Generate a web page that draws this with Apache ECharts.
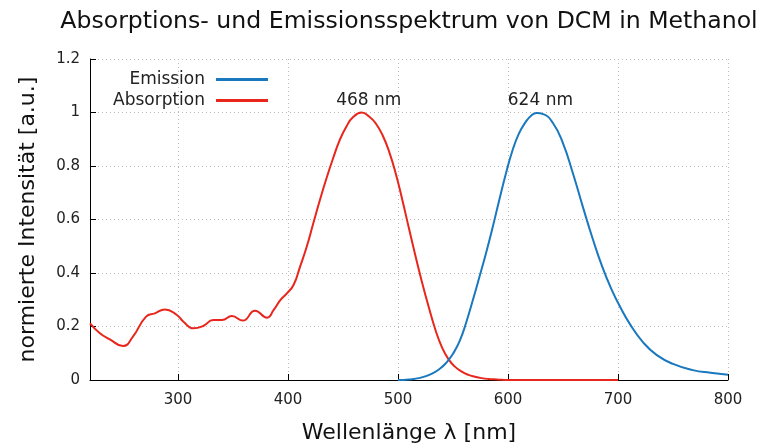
<!DOCTYPE html>
<html>
<head>
<meta charset="utf-8">
<script src="https://cdn.jsdelivr.net/npm/echarts@6/dist/echarts.min.js"></script>
<style>
html,body{margin:0;padding:0;background:#fff;}
#c{width:763px;height:446px;}
</style>
</head>
<body>
<div id="c"></div>
<script>
var titleText = 'Absorptions- und Emissionsspektrum von DCM in Methanol';
var xName = 'Wellenlänge λ [nm]';
var yName = 'normierte Intensität [a.u.]';
var xTicks = [300, 400, 500, 600, 700, 800];

var absX = [220,229,238,250,259,271,279,288,299,305,314,323,332,340,349,359,370,381,387,393,399,405,411,417,423,429,435,441,447,453,459,467,474,480,486,492,498,504,510,516,522,528,534,540,546,552,558,564,570,576,582,590,600,650,700];
var absY = [0.212,0.175,0.152,0.127,0.162,0.237,0.249,0.264,0.243,0.218,0.193,0.202,0.224,0.224,0.239,0.222,0.259,0.233,0.262,0.299,0.324,0.355,0.424,0.498,0.586,0.673,0.754,0.829,0.897,0.947,0.982,1.0,0.984,0.958,0.915,0.853,0.771,0.672,0.566,0.462,0.363,0.272,0.188,0.122,0.077,0.049,0.031,0.019,0.012,0.007,0.004,0.002,0,0,0];

var emX = [500,510,520,530,538,544,550,556,562,568,574,580,586,592,598,604,610,616,621,626,632,641,650,659,668,677,686,694,702,711,723,735,750,768,784,800];
var emY = [0,0.002,0.008,0.022,0.042,0.065,0.098,0.145,0.215,0.298,0.385,0.474,0.570,0.672,0.770,0.857,0.922,0.964,0.988,0.998,0.994,0.960,0.885,0.773,0.648,0.528,0.420,0.340,0.273,0.208,0.140,0.094,0.060,0.037,0.027,0.020];

var absPeak = [468, 1.0];
var emPeak = [624, 1.0];

function pairs(xs, ys) { return xs.map(function (x, i) { return [x, ys[i]]; }); }

var FONT = 'DejaVu Sans';
var chart = echarts.init(document.getElementById('c'), null, {renderer: 'canvas'});
var peakLabel = function (pt) {
  return {
    symbol: 'circle', symbolSize: 1, silent: true,
    itemStyle: {color: 'rgba(0,0,0,0)'},
    label: {show: true, position: 'top', distance: 3, offset: [6, 0], color: '#222', fontFamily: FONT, fontSize: 17,
      formatter: pt[0] + ' nm'},
    data: [{coord: pt}]
  };
};
chart.setOption({
  animation: false,
  backgroundColor: '#fff',
  title: {text: titleText, left: 404, textAlign: 'center', top: 5,
    textStyle: {fontFamily: FONT, fontSize: 23.6, fontWeight: 'normal', color: '#111'}},
  legend: {
    data: ['Emission', 'Absorption'], orient: 'vertical', left: 108, top: 66,
    align: 'right', icon: 'rect', itemWidth: 52, itemHeight: 3, itemGap: 4,
    textStyle: {fontFamily: FONT, fontSize: 17, color: '#222', width: 93, align: 'right', padding: [0, 6, 0, 0]}
  },
  grid: {left: 90, right: 35, top: 59, bottom: 66, containLabel: false, outerBoundsMode: 'none'},
  xAxis: {
    type: 'value', min: 220, max: 800,
    name: xName, nameLocation: 'middle', nameGap: 42,
    nameTextStyle: {fontFamily: FONT, fontSize: 22, color: '#111'},
    axisLine: {show: true, lineStyle: {color: '#000', width: 1}},
    axisTick: {show: true, inside: true, length: 6, customValues: xTicks, lineStyle: {color: '#000'}},
    axisLabel: {customValues: xTicks, fontFamily: FONT, fontSize: 15, color: '#222', margin: 13},
    splitLine: {show: true, lineStyle: {color: '#bbb', type: [1, 3], width: 1}}
  },
  yAxis: {
    type: 'value', min: 0, max: 1.2, interval: 0.2,
    name: yName, nameLocation: 'middle', nameGap: 51,
    nameTextStyle: {fontFamily: FONT, fontSize: 22, color: '#111'},
    axisLine: {show: true, lineStyle: {color: '#000', width: 1}},
    axisTick: {show: true, inside: true, length: 6, lineStyle: {color: '#000'}},
    axisLabel: {fontFamily: FONT, fontSize: 15, color: '#222', margin: 10},
    splitLine: {show: true, lineStyle: {color: '#bbb', type: [1, 3], width: 1}}
  },
  series: [
    {name: 'Emission', type: 'line', data: pairs(emX, emY), smooth: 0.5, symbol: 'none',
      color: '#1a78be', lineStyle: {width: 2, color: '#1a78be'}, markPoint: peakLabel(emPeak), z: 3},
    {name: 'Absorption', type: 'line', data: pairs(absX, absY), smooth: 0.5, symbol: 'none',
      color: '#e8261c', lineStyle: {width: 2, color: '#e8261c'}, markPoint: peakLabel(absPeak), z: 2}
  ]
});
</script>
</body>
</html>
